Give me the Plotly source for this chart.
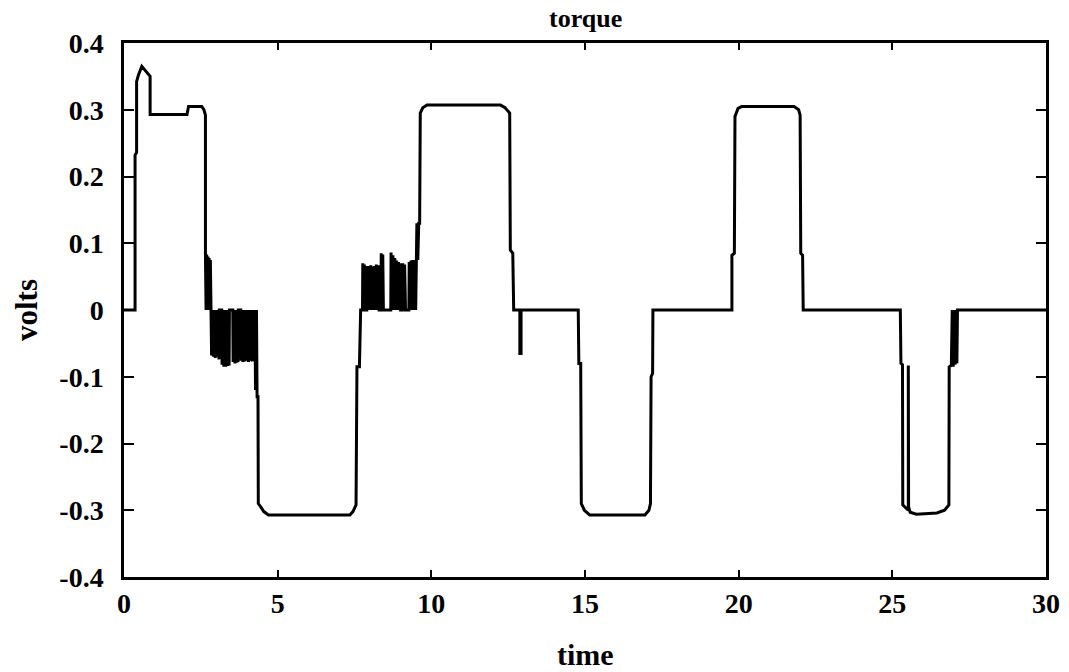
import plotly.graph_objects as go

# ---- data: torque signal breakpoints (time, volts) ----
time_s = [
    0.00, 0.36, 0.36, 0.41, 0.41, 0.47, 0.58, 0.70, 0.85, 0.85,
    2.05, 2.10, 2.53, 2.60, 2.65, 2.65,
    2.67, 2.69, 2.71, 2.73, 2.75, 2.77, 2.79, 2.81, 2.83,
    2.85, 2.88, 2.91, 2.94, 2.97, 3.00, 3.03, 3.06, 3.09, 3.10,
    3.18, 3.19, 3.22, 3.25, 3.28, 3.31, 3.34, 3.37, 3.40, 3.42, 3.43,
    3.54, 3.55, 3.58, 3.61, 3.64, 3.67, 3.70, 3.71, 3.72,
    3.80, 3.81, 3.84, 3.87, 3.90, 3.93, 3.96, 3.99, 4.02, 4.05, 4.08,
    4.11, 4.14, 4.17, 4.20, 4.23, 4.26, 4.28, 4.31, 4.33, 4.36,
    4.37, 4.45, 4.55, 4.70, 7.35, 7.45, 7.55, 7.58, 7.66, 7.70,
    7.76, 7.77, 7.79, 7.82, 7.84,
    7.90, 7.91, 7.94, 7.97, 8.00, 8.03, 8.06, 8.09, 8.12, 8.15, 8.18,
    8.21, 8.24, 8.27, 8.30,
    8.36, 8.37, 8.40, 8.42, 8.44,
    8.68, 8.69, 8.72, 8.75, 8.78, 8.81, 8.84, 8.87, 8.90, 8.93, 8.96,
    8.98, 9.00,
    9.06, 9.07, 9.10, 9.13, 9.16,
    9.27, 9.28, 9.31, 9.34, 9.37, 9.40, 9.43, 9.46, 9.49, 9.51,
    9.52, 9.53, 9.56, 9.59, 9.62, 9.64, 9.72, 9.86,
    12.25, 12.40, 12.55, 12.57, 12.65, 12.68,
    12.88, 12.88, 12.92, 12.92,
    14.78, 14.80, 14.86, 14.88, 14.98, 15.15,
    16.95, 17.08, 17.13, 17.15, 17.20, 17.21,
    19.78, 19.78, 19.86, 19.88, 19.98, 20.10,
    21.80, 21.95, 22.00, 22.02, 22.08, 22.10,
    25.26, 25.28, 25.33, 25.34, 25.45, 25.52, 25.52, 25.53,
    25.58, 25.78, 26.45, 26.70, 26.84, 26.85, 26.92,
    26.95, 26.98, 27.01, 27.04, 27.07, 27.10, 27.12,
    30.00,
]
volts = [
    0.000, 0.000, 0.232, 0.236, 0.342, 0.352, 0.365, 0.358, 0.350, 0.293,
    0.293, 0.305, 0.305, 0.300, 0.292, 0.085,
    0.000, 0.083, 0.000, 0.080, 0.000, 0.078, 0.000, 0.075, 0.000,
    -0.068, 0.000, -0.070, 0.000, -0.072, 0.000, -0.070, 0.000, -0.074, 0.000,
    0.000, -0.082, 0.000, -0.085, 0.000, -0.085, 0.000, -0.084, 0.000, -0.083, 0.000,
    0.000, -0.078, 0.000, -0.080, 0.000, -0.079, 0.000, -0.078, 0.000,
    0.000, -0.076, 0.000, -0.078, 0.000, -0.077, 0.000, -0.076, 0.000, -0.078, 0.000,
    -0.076, 0.000, -0.077, 0.000, -0.076, 0.000, -0.120, 0.000, -0.130, -0.130,
    -0.290, -0.295, -0.302, -0.307, -0.307, -0.302, -0.292, -0.085, -0.085, 0.000,
    0.000, 0.070, 0.000, 0.068, 0.000,
    0.000, 0.066, 0.000, 0.066, 0.000, 0.067, 0.000, 0.065, 0.000, 0.066, 0.000,
    0.068, 0.000, 0.067, 0.000,
    0.000, 0.085, 0.000, 0.083, 0.000,
    0.000, 0.086, 0.000, 0.082, 0.000, 0.078, 0.000, 0.074, 0.000, 0.072, 0.000,
    0.070, 0.000,
    0.000, 0.070, 0.000, 0.068, 0.000,
    0.000, 0.072, 0.000, 0.074, 0.000, 0.075, 0.000, 0.075, 0.000, 0.076,
    0.076, 0.130, 0.075, 0.130, 0.130, 0.295, 0.303, 0.307,
    0.307, 0.303, 0.295, 0.090, 0.085, 0.000,
    0.000, -0.065, -0.065, 0.000,
    0.000, -0.080, -0.080, -0.290, -0.300, -0.307,
    -0.307, -0.300, -0.290, -0.100, -0.095, 0.000,
    0.000, 0.082, 0.085, 0.290, 0.302, 0.305,
    0.305, 0.300, 0.292, 0.085, 0.082, 0.000,
    0.000, -0.080, -0.082, -0.292, -0.297, -0.300, -0.083, -0.295,
    -0.303, -0.306, -0.304, -0.300, -0.292, -0.085, -0.083,
    0.000, -0.085, 0.000, -0.082, 0.000, -0.080, 0.000,
    0.000,
]

x_tick_vals = [0, 5, 10, 15, 20, 25, 30]
x_tick_text = ["0", "5", "10", "15", "20", "25", "30"]
y_tick_vals = [0.4, 0.3, 0.2, 0.1, 0, -0.1, -0.2, -0.3, -0.4]
y_tick_text = ["0.4", "0.3", "0.2", "0.1", "0", "-0.1", "-0.2", "-0.3", "-0.4"]

chart_title = "torque"
x_title = "time"
y_title = "volts"

FONT = "Liberation Serif"

fig = go.Figure()
fig.add_trace(go.Scatter(
    x=time_s, y=volts, mode="lines",
    line=dict(color="black", width=3),
    showlegend=False, hoverinfo="skip",
))

axis_common = dict(
    showgrid=False, zeroline=False, showline=True, linecolor="black",
    linewidth=2.5, mirror="ticks", ticks="inside", tickcolor="black",
    tickwidth=2, automargin=False,
    tickfont=dict(family=FONT, size=28, color="black", weight="bold"),
)

fig.update_layout(
    width=1069, height=672,
    paper_bgcolor="white", plot_bgcolor="white",
    margin=dict(l=124, r=23, t=43, b=95),
)
fig.update_xaxes(
    range=[0, 30], tickvals=x_tick_vals, ticktext=x_tick_text, ticklen=7,
    ticklabelstandoff=0, **axis_common,
)
fig.update_yaxes(
    range=[-0.4, 0.4], tickvals=y_tick_vals, ticktext=y_tick_text, ticklen=10,
    ticklabelstandoff=12, **axis_common,
)

fig.add_annotation(text=chart_title, xref="paper", yref="paper", x=0.5, y=1,
                   xanchor="center", yanchor="middle", yshift=25, showarrow=False,
                   font=dict(family=FONT, size=26, color="black", weight="bold"))
fig.add_annotation(text=x_title, xref="paper", yref="paper", x=0.5, y=0,
                   xanchor="center", yanchor="middle", yshift=-77, showarrow=False,
                   font=dict(family=FONT, size=30, color="black", weight="bold"))
fig.add_annotation(text=y_title, xref="paper", yref="paper", x=0, y=0.5,
                   xanchor="center", yanchor="middle", xshift=-98, textangle=-90,
                   showarrow=False,
                   font=dict(family=FONT, size=31, color="black", weight="bold"))

# remove the default page margin so the figure fills the window exactly
fig.write_html("out.html", config={"displayModeBar": False},
               post_script="document.body.style.margin='0';document.body.style.overflow='hidden';")
